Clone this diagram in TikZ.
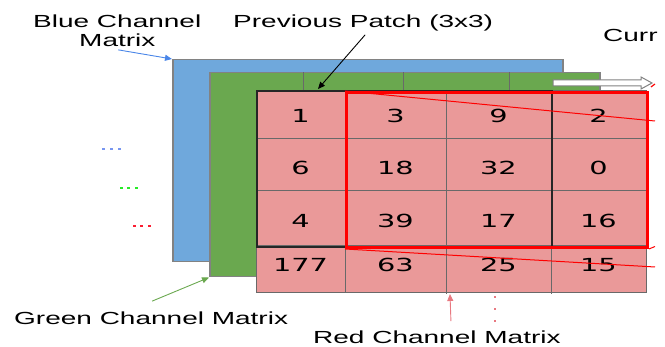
\documentclass[tikz,border=0pt]{standalone}
\usepackage{fontspec}
\usepackage{graphicx}
\setmainfont{Liberation Sans}
\newfontfamily\numfont{DejaVu Sans}
\usetikzlibrary{arrows.meta}

\definecolor{chblue}{RGB}{111,168,220}
\definecolor{chgreen}{RGB}{106,168,79}
\definecolor{chpink}{RGB}{234,153,153}
\definecolor{edgegray}{RGB}{130,130,130}
\definecolor{gridgray}{RGB}{105,105,105}
\definecolor{ptrblue}{RGB}{74,134,232}
\definecolor{ptrred}{RGB}{232,120,128}
\definecolor{dotblue}{RGB}{120,150,240}
\definecolor{dotgreen}{RGB}{40,235,40}
\definecolor{dotred}{RGB}{250,30,50}

% wide sans lettering
\newcommand\widetext[1]{\scalebox{1.6}[1]{#1}}

\tikzset{
  lbl/.style={font=\fontsize{17.5}{21}\selectfont, inner sep=0pt, anchor=base west},
  num/.style={font=\numfont\fontsize{18}{22}\selectfont, inner sep=0pt, anchor=base},
  matbox/.style={draw=edgegray, line width=1.5pt, inner sep=0pt, anchor=north west},
  gridline/.style={draw=gridgray, line width=1pt},
  pointer/.style={line width=0.9pt, -{Triangle[length=7pt,width=6pt]}},
  dotmark/.style={inner sep=0pt, minimum width=3pt, minimum height=2.2pt},
}

\begin{document}
\begin{tikzpicture}[x=1pt,y=-1pt]
\useasboundingbox (0,0) rectangle (665,347);

% stacked channel matrices
\node[matbox, fill=chblue, minimum width=390pt, minimum height=202pt] (bluemat) at (172,59) {};
\node[matbox, fill=chgreen, minimum width=390pt, minimum height=204pt] (greenmat) at (209,72) {};
\draw[gridline] (303,72) -- (303,90) (403,72) -- (403,90) (509,72) -- (509,90);
\node[matbox, draw=gridgray, line width=1pt, fill=chpink, minimum width=390pt, minimum height=202pt] (redmat) at (256,90) {};

% grid of the red channel
\draw[gridline] (345,90) -- (345,292) (446,90) -- (446,294) (551,90) -- (551,294);
\draw[gridline] (256,139) -- (646,139) (256,191) -- (646,191) (256,246) -- (646,246);

% cell values
\foreach \r/\yb/\va/\vb/\vc/\vd in {1/122.5/1/3/9/2, 2/175/6/18/32/0, 3/228/4/39/17/16, 4/272/177/63/25/15}{
  \node[num] (cell-\r-1) at (300.5,\yb) {\widetext{\va}};
  \node[num] (cell-\r-2) at (395.5,\yb) {\widetext{\vb}};
  \node[num] (cell-\r-3) at (498.5,\yb) {\widetext{\vc}};
  \node[num] (cell-\r-4) at (598.5,\yb) {\widetext{\vd}};
}

% previous (black) and current (red) 3x3 patches
\node[draw=black!85, line width=2pt, inner sep=0pt, minimum width=295pt, minimum height=156pt, anchor=north west] (prevpatch) at (256,90) {};
\node[draw=red, line width=3pt, inner sep=0pt, minimum width=301pt, minimum height=155pt, anchor=north west] (curpatch) at (345,91) {};

% rays towards the next patch
\coordinate (raytop) at (655,121);
\coordinate (raybot) at (655,267);
\draw[red, line width=1pt] (curpatch.north west) -- (raytop);
\draw[red, line width=1pt] (curpatch.south west) -- (raybot);
\coordinate (edgebot) at (655,246.5);
\draw[red, line width=1pt] (curpatch.south east) -- (edgebot);
\coordinate (ticka) at (651,87);
\coordinate (tickb) at (655,84);
\draw[red, line width=1.2pt] (ticka) -- (tickb);

% hollow sliding arrow
\coordinate (slidefrom) at (553,83);
\coordinate (slideto) at (652,83);
\draw[edgegray, fill=white, line width=1pt]
  (553,80) -- (641,80) -- (641,77) -- (slideto) -- (641,89) -- (641,86) -- (553,86) -- cycle;

% labels
\node[lbl] (bluelbl) at (33,28) {\widetext{Blue Channel}};
\node[lbl] (bluelbltwo) at (79,46.5) {\widetext{Matrix}};
\node[lbl] (prevlbl) at (233,28) {\widetext{Previous Patch (3x3)}};
\node[lbl] (curlbl) at (603,42) {\widetext{Curr}};
\node[lbl] (greenlbl) at (14,325) {\widetext{Green Channel Matrix}};
\node[lbl] (redlbl) at (313,344) {\widetext{Red Channel Matrix}};

% pointers
\draw[pointer, ptrblue] ([xshift=1pt,yshift=-3pt]bluelbltwo.south) -- (bluemat.north west);
\draw[pointer, black] ([xshift=2pt,yshift=-3pt]prevlbl.south) -- ([xshift=62pt,yshift=1pt]prevpatch.north west);
\draw[pointer, chgreen] ([xshift=1pt,yshift=11pt]greenlbl.north) -- (greenmat.south west);
\draw[pointer, ptrred] ([xshift=14pt,yshift=10pt]redlbl.north) -- ([xshift=194pt,yshift=-1pt]redmat.south west);

% ellipsis marks
\foreach \i/\x in {1/103,2/111,3/119} \node[dotmark, fill=dotblue] (bdot\i) at (\x,149) {};
\foreach \i/\x in {1/121,2/128,3/136} \node[dotmark, fill=dotgreen] (gdot\i) at (\x,188) {};
\foreach \i/\x in {1/134,2/141,3/149} \node[dotmark, fill=dotred] (rdot\i) at (\x,226) {};
\foreach \i/\y in {1/297,2/309,3/321} \node[dotmark, minimum width=2.5pt, minimum height=2.5pt, fill=ptrred] (vdot\i) at (495,\y) {};
\end{tikzpicture}
\end{document}
